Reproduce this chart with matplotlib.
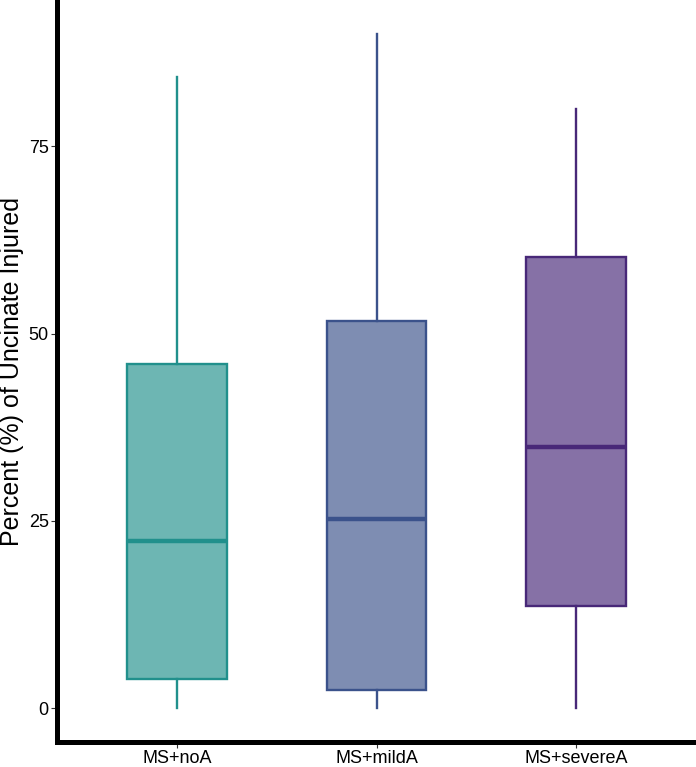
import numpy as np
import matplotlib
matplotlib.use("Agg")
import matplotlib.pyplot as plt
from matplotlib.colors import to_rgba

plt.rcParams['font.family'] = ['Liberation Sans', 'DejaVu Sans']

# data
groups = ['MS+noA', 'MS+mildA', 'MS+severeA']
whisker_lo = [0.0, 0.0, 0.0]
q1 = [3.9, 2.4, 13.6]
median = [22.3, 25.3, 34.8]
q3 = [46.0, 51.7, 60.2]
whisker_hi = [84.2, 90.0, 80.0]
colors = ['#21908C', '#3B528B', '#482878']
yticks = [0, 25, 50, 75]

fig = plt.figure(figsize=(6.96, 7.67), dpi=100)
ax = fig.add_axes([57 / 696, 25 / 767, 1 - 57 / 696, 1 - 25 / 767])

stats = []
for i, g in enumerate(groups):
    stats.append({'label': g, 'whislo': whisker_lo[i], 'q1': q1[i], 'med': median[i],
                  'q3': q3[i], 'whishi': whisker_hi[i]})

pos = np.arange(1, len(groups) + 1)
for i, st in enumerate(stats):
    c = colors[i]
    ax.bxp([st], positions=[pos[i]], widths=0.5, showcaps=False, showfliers=False,
           patch_artist=True,
           boxprops=dict(facecolor=to_rgba(c, 0.66), edgecolor=c, linewidth=1.7),
           medianprops=dict(color=c, linewidth=3.2, solid_capstyle='butt'),
           whiskerprops=dict(color=c, linewidth=1.7))

ax.set_xlim(0.4, 3.6)
ax.set_ylim(-4.5, 94.5)
ax.set_yticks(yticks)
ax.set_yticklabels([str(t) for t in yticks])
ax.set_xticks(pos)
ax.set_xticklabels(groups)

for s in ['top', 'right']:
    ax.spines[s].set_visible(False)
for s in ['left', 'bottom']:
    ax.spines[s].set_linewidth(3.6)
    ax.spines[s].set_color('black')

ax.tick_params(axis='both', length=4, width=0.8, color='#333333', labelsize=13,
               labelcolor='black', pad=2)
ax.set_ylabel('Percent (%) of Uncinate Injured', fontsize=18)
ax.yaxis.set_label_coords(-0.052, 0.5)

fig.savefig('out.png', dpi=100)
